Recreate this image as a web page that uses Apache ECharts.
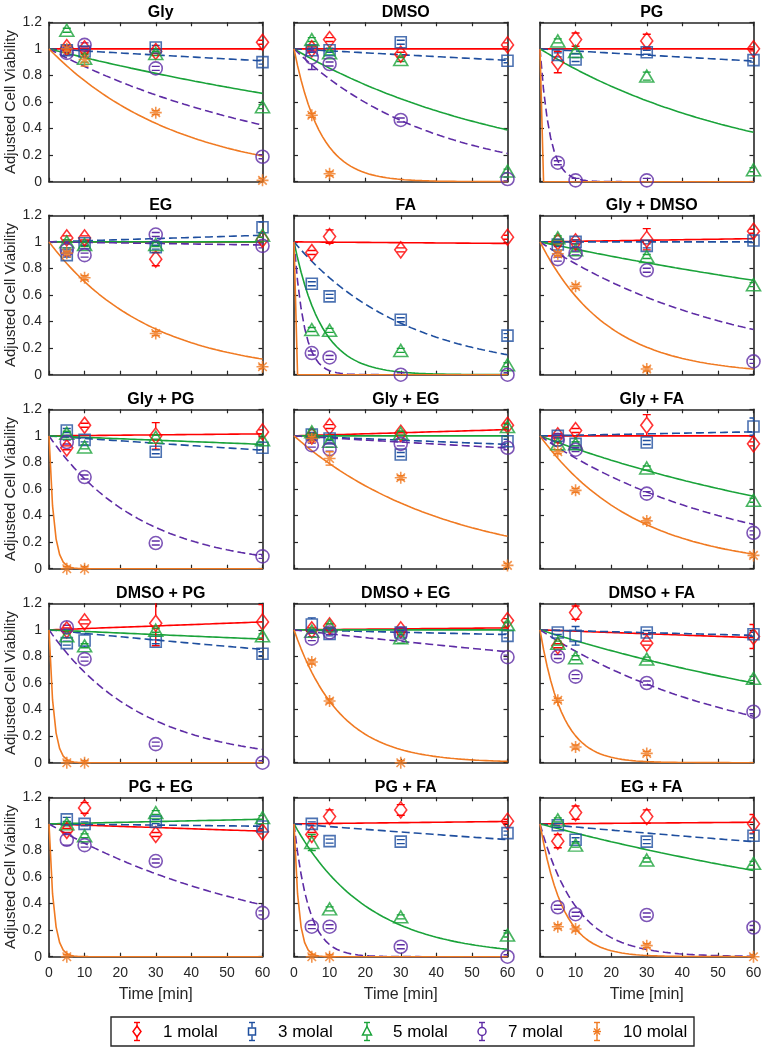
<!DOCTYPE html>
<html>
<head>
<meta charset="utf-8">
<script src="https://cdn.jsdelivr.net/npm/echarts@6/dist/echarts.min.js"></script>
<style>
  html, body { margin: 0; padding: 0; background: #fff; }
  #chart { width: 766px; height: 1050px; }
</style>
</head>
<body>
<div id="chart"></div>
<script>
// panels, left to right, top to bottom
const panelTitles = ['Gly', 'DMSO', 'PG', 'EG', 'FA', 'Gly + DMSO', 'Gly + PG', 'Gly + EG', 'Gly + FA',
  'DMSO + PG', 'DMSO + EG', 'DMSO + FA', 'PG + EG', 'PG + FA', 'EG + FA'];
const times = [5, 10, 30, 60];
const molalLabels = ['1 molal', '3 molal', '5 molal', '7 molal', '10 molal'];
const xTickStep = 10;
const yTickStep = 0.2;

// measured viability at 5, 10, 30, 60 min (null = not shown)
const viability1 = [
  [1.01, 1.0, 0.98, 1.05], [1.0, 1.07, 0.96, 1.03], [0.90, 1.07, 1.06, 1.0],
  [1.03, 1.03, 0.87, 1.02], [0.92, 1.04, 0.94, 1.035], [1.0, 1.0, 1.02, 1.08],
  [0.91, 1.08, 1.0, 1.03], [1.0, 1.07, 1.02, 1.08], [1.0, 1.04, 1.08, 0.94],
  [1.0, 1.06, 1.05, 1.06], [1.0, 1.03, 1.0, 1.07], [0.88, 1.13, 0.90, 0.95],
  [0.95, 1.12, 0.92, 0.94], [0.92, 1.055, 1.105, 1.02], [0.87, 1.085, 1.055, 1.0]
];
const viability3 = [
  [0.99, 0.98, 1.01, 0.90], [0.99, 0.99, 1.05, 0.91], [0.955, 0.92, 0.975, 0.915],
  [0.90, 0.99, 0.96, 1.11], [0.685, 0.59, 0.414, 0.294], [0.98, 1.0, 0.97, 1.01],
  [1.04, 0.97, 0.88, 0.91], [1.01, 0.98, 0.86, 0.96], [1.0, 0.94, 0.95, 1.07],
  [0.90, 0.92, 0.91, 0.82], [1.04, 0.97, 0.98, 0.955], [0.98, 0.955, 0.98, 0.967],
  [1.034, 1.0, 1.017, 0.98], [1.0, 0.87, 0.866, 0.93], [0.99, 0.88, 0.866, 0.91]
];
const viability5 = [
  [1.14, 0.93, 0.965, 0.565], [1.07, 0.97, 0.92, 0.08], [1.06, 0.98, 0.795, 0.09],
  [1.0, 0.98, 0.98, 1.05], [0.34, 0.334, 0.183, 0.075], [1.03, 0.94, 0.89, 0.678],
  [1.02, 0.917, 0.99, 0.97], [1.03, 0.96, 1.02, 1.07], [0.94, 0.94, 0.758, 0.515],
  [0.955, 0.88, 0.997, 0.955], [0.99, 1.03, 0.94, 1.04], [0.90, 0.79, 0.78, 0.635],
  [1.0, 0.91, 1.085, 1.047], [0.86, 0.36, 0.30, 0.163], [1.03, 0.84, 0.728, 0.703]
];
const viability7 = [
  [0.97, 1.03, 0.853, 0.188], [0.935, 0.886, 0.465, 0.02], [0.143, 0.01, 0.01, null],
  [0.94, 0.90, 1.055, 0.97], [0.163, 0.13, 0.0, 0.0], [0.87, 0.916, 0.786, 0.10],
  [0.954, 0.69, 0.193, 0.093], [0.93, 0.90, 0.94, 0.91], [0.97, 0.896, 0.565, 0.27],
  [1.02, 0.78, 0.14, 0.0], [0.934, 0.98, 0.97, 0.795], [0.80, 0.648, 0.60, 0.384],
  [0.88, 0.84, 0.72, 0.33], [0.226, 0.226, 0.075, 0.0], [0.372, 0.32, 0.314, 0.22]
];
const viability10 = [
  [1.0, 0.92, 0.52, 0.01], [0.50, 0.06, null, null], [null, null, null, null],
  [0.915, 0.73, 0.31, 0.06], [null, null, null, null], [0.91, 0.665, 0.043, null],
  [0.0, 0.0, null, null], [0.98, 0.83, 0.685, 0.025], [0.88, 0.59, 0.36, 0.10],
  [0.0, 0.0, null, null], [0.758, 0.464, 0.0, null], [0.47, 0.118, 0.07, null],
  [0.0, null, null, null], [0.0, 0.0, null, null], [0.226, 0.208, 0.083, 0.0]
];

// fitted decay rate (1/min) of each panel's curve
const fitRate1 = [0, 0, 0, 0, 0.0002, -0.0004, -0.00025, -0.00077, 0, -0.00097, -0.00025, 0.001, 0.00094, -0.0003, -0.0002];
const fitRate3 = [0.00157, 0.0015, 0.0016, -0.00081, 0.0316, 0, 0.0019, 0.0011, -0.0005, 0.00265, 0.0006, 0.0007, 0.0003, 0.0021, 0.0024];
const fitRate5 = [0.0068, 0.0157, 0.0165, 0, 0.13, 0.0057, 0.0011, 0, 0.0101, 0.0012, 0, 0.0085, -0.00057, 0.048, 0.0072];
const fitRate7 = [0.0142, 0.0258, 0.37, 0.0004, 0.35, 0.018, 0.039, 0.0016, 0.0183, 0.0384, 0.003, 0.0175, 0.0157, 0.24, 0.097];
const fitRate10 = [0.0274, 0.135, 8, 0.0356, 8, 0.0525, 0.75, 0.0235, 0.0368, 0.75, 0.077, 0.16, 0.75, 0.75, 0.155];

// visible error bars: [panel, series, time index, half width]; others are small
const errorBars = [
  [0, 2, 1, 0.03], [0, 4, 1, 0.05], [1, 3, 0, 0.09],
  [2, 0, 0, 0.08], [2, 0, 1, 0.05], [2, 0, 2, 0.05], [2, 2, 2, 0.03],
  [3, 0, 2, 0.05], [3, 1, 3, 0.04], [4, 0, 1, 0.05], [5, 0, 2, 0.08],
  [6, 0, 2, 0.1], [7, 4, 1, 0.05], [8, 0, 2, 0.08], [8, 1, 3, 0.065],
  [9, 0, 2, 0.17], [9, 0, 3, 0.13], [9, 1, 1, 0.05], [10, 1, 0, 0.05], [10, 2, 2, 0.04],
  [11, 0, 1, 0.05], [11, 0, 3, 0.09], [11, 1, 1, 0.07], [12, 0, 1, 0.04], [12, 3, 0, 0.04],
  [13, 0, 1, 0.05], [13, 0, 2, 0.04], [13, 2, 0, 0.06],
  [14, 0, 0, 0.05], [14, 0, 1, 0.05], [14, 0, 2, 0.05], [14, 0, 3, 0.07]
];
const smallError = 0.015;

const viability = [viability1, viability3, viability5, viability7, viability10];
const fitRates = [fitRate1, fitRate3, fitRate5, fitRate7, fitRate10];

const colors = ['#ff0000', '#1f4f9f', '#1aa33a', '#5e2ca5', '#f07a22'];
const asterisk = 'path://M5 0L5 10M0 5L10 5M1.46 1.46L8.54 8.54M1.46 8.54L8.54 1.46';
const symbols = ['diamond', 'rect', 'triangle', 'circle', asterisk];
const symbolSizes = [[12, 16], [11, 11], [14, 12], [13, 13], [12, 12]];
const markerHalf = [8, 5.5, 6, 6.5, 6];
const lineTypes = ['solid', [8, 4], 'solid', [8, 4], 'solid'];
const font = 'Liberation Sans, Arial, sans-serif';
const axisColor = '#262626';

const colLeft = [49, 294, 540];
const rowTop = [22.3, 215.3, 409.3, 603.3, 797.3];
const plotW = 213.5, plotH = 159.4;

function errorOf(p, s, k) {
  const hit = errorBars.find(e => e[0] === p && e[1] === s && e[2] === k);
  return hit ? hit[3] : smallError;
}

const fitTimes = [];
for (let t = 0; t <= 60; t++) fitTimes.push(t);

const grids = [], xAxes = [], yAxes = [], titles = [], series = [];

panelTitles.forEach(function (name, p) {
  const row = Math.floor(p / 3), col = p % 3;
  grids.push({ left: colLeft[col], top: rowTop[row], width: plotW, height: plotH, show: false });
  titles.push({
    text: name, left: colLeft[col] + plotW / 2, top: rowTop[row] - 23, textAlign: 'center',
    textStyle: { fontFamily: font, fontSize: 16, fontWeight: 'bold', color: '#000' }
  });
  const axisLine = { show: true, onZero: false, lineStyle: { color: axisColor, width: 1.6 } };
  const tick = { show: true, inside: true, length: 4, lineStyle: { color: axisColor, width: 1.2 } };
  const isBottom = row === 4, isLeft = col === 0;
  xAxes.push({
    gridIndex: p, type: 'value', min: 0, max: 60, interval: xTickStep, position: 'bottom',
    axisLine: axisLine, axisTick: tick, splitLine: { show: false },
    axisLabel: { show: isBottom, fontFamily: font, fontSize: 14, color: axisColor, margin: 9 },
    name: isBottom ? 'Time [min]' : '', nameLocation: 'middle', nameGap: 30,
    nameTextStyle: { fontFamily: font, fontSize: 16, color: axisColor }
  });
  xAxes.push({
    gridIndex: p, type: 'value', min: 0, max: 60, interval: xTickStep, position: 'top',
    axisLine: axisLine, axisTick: tick, splitLine: { show: false }, axisLabel: { show: false }
  });
  yAxes.push({
    gridIndex: p, type: 'value', min: 0, max: 1.2, interval: yTickStep, position: 'left',
    axisLine: axisLine, axisTick: tick, splitLine: { show: false },
    axisLabel: { show: isLeft, fontFamily: font, fontSize: 14, color: axisColor, margin: 7 },
    name: isLeft ? 'Adjusted Cell Viability' : '', nameLocation: 'middle', nameGap: 31,
    nameTextStyle: { fontFamily: font, fontSize: 15, color: axisColor }
  });
  yAxes.push({
    gridIndex: p, type: 'value', min: 0, max: 1.2, interval: yTickStep, position: 'right',
    axisLine: axisLine, axisTick: tick, splitLine: { show: false }, axisLabel: { show: false }
  });

  for (let s = 0; s < 5; s++) {
    const color = colors[s];
    const k = fitRates[s][p];
    series.push({
      type: 'line', xAxisIndex: 2 * p, yAxisIndex: 2 * p, silent: true, z: 2,
      showSymbol: false, symbol: 'none',
      lineStyle: { color: color, width: 1.6, type: lineTypes[s] },
      data: fitTimes.map(t => [t, Math.exp(-k * t)])
    });
    const pts = [];
    viability[s][p].forEach(function (v, i) {
      if (v !== null) pts.push([times[i], v, errorOf(p, s, i)]);
    });
    series.push({
      type: 'custom', xAxisIndex: 2 * p, yAxisIndex: 2 * p, silent: true, z: 3, clip: true,
      encode: { x: 0, y: 1 },
      renderItem: function (params, api) {
        const t = api.value(0), v = api.value(1), e = api.value(2);
        const top = api.coord([t, v + e]), bot = api.coord([t, v - e]), mid = api.coord([t, v]);
        const half = markerHalf[s], cap = 4;
        const style = { stroke: color, lineWidth: 1.4, fill: null };
        const kids = [
          { type: 'line', shape: { x1: top[0] - cap, y1: top[1], x2: top[0] + cap, y2: top[1] }, style: style },
          { type: 'line', shape: { x1: bot[0] - cap, y1: bot[1], x2: bot[0] + cap, y2: bot[1] }, style: style }
        ];
        if (mid[1] - top[1] > half) {
          kids.push({ type: 'line', shape: { x1: mid[0], y1: top[1], x2: mid[0], y2: mid[1] - half }, style: style });
        }
        if (bot[1] - mid[1] > half) {
          kids.push({ type: 'line', shape: { x1: mid[0], y1: mid[1] + half, x2: mid[0], y2: bot[1] }, style: style });
        }
        return { type: 'group', children: kids };
      },
      data: pts
    });
    series.push({
      type: 'scatter', name: molalLabels[s], xAxisIndex: 2 * p, yAxisIndex: 2 * p,
      silent: true, z: 4, clip: false,
      symbol: symbols[s], symbolSize: symbolSizes[s],
      itemStyle: { color: 'rgba(0,0,0,0)', borderColor: color, borderWidth: 1.6 },
      data: pts.map(d => [d[0], d[1]])
    });
  }
});

// legend box drawn as flat graphic elements: marker + error bar + label per item
const legendTop = 1017, legendH = 29, legendMid = legendTop + legendH / 2;
const graphics = [{
  type: 'rect', z: 100, shape: { x: 111, y: legendTop, width: 583, height: legendH },
  style: { fill: '#fff', stroke: axisColor, lineWidth: 1.4 }
}];
function addLine(x1, y1, x2, y2, color) {
  graphics.push({ type: 'line', z: 101, shape: { x1: x1, y1: y1, x2: x2, y2: y2 }, style: { stroke: color, lineWidth: 1.4 } });
}
molalLabels.forEach(function (label, s) {
  const cx = 137 + 115 * s, cy = legendMid, c = colors[s];
  addLine(cx, cy - 9, cx, cy - 4, c);
  addLine(cx, cy + 4, cx, cy + 9, c);
  addLine(cx - 3, cy - 9, cx + 3, cy - 9, c);
  addLine(cx - 3, cy + 9, cx + 3, cy + 9, c);
  const st = { fill: 'rgba(0,0,0,0)', stroke: c, lineWidth: 1.5 };
  if (s === 0) graphics.push({ type: 'polygon', z: 102, shape: { points: [[cx, cy - 5.5], [cx + 4, cy], [cx, cy + 5.5], [cx - 4, cy]] }, style: st });
  if (s === 1) graphics.push({ type: 'rect', z: 102, shape: { x: cx - 3.5, y: cy - 3.5, width: 7, height: 7 }, style: st });
  if (s === 2) graphics.push({ type: 'polygon', z: 102, shape: { points: [[cx, cy - 5], [cx + 4.5, cy + 3.5], [cx - 4.5, cy + 3.5]] }, style: st });
  if (s === 3) graphics.push({ type: 'circle', z: 102, shape: { cx: cx, cy: cy, r: 4 }, style: st });
  if (s === 4) {
    addLine(cx, cy - 4.5, cx, cy + 4.5, c);
    addLine(cx - 4, cy, cx + 4, cy, c);
    addLine(cx - 3, cy - 3, cx + 3, cy + 3, c);
    addLine(cx - 3, cy + 3, cx + 3, cy - 3, c);
  }
  graphics.push({
    type: 'text', z: 102, x: cx + 26, y: cy + 1,
    style: { text: label, fontFamily: font, fontSize: 17, fill: '#000', verticalAlign: 'middle', align: 'left' }
  });
});

const chart = echarts.init(document.getElementById('chart'), null, { renderer: 'canvas' });
chart.setOption({
  backgroundColor: '#fff',
  animation: false,
  title: titles,
  grid: grids,
  xAxis: xAxes,
  yAxis: yAxes,
  series: series,
  graphic: { elements: graphics }
});
</script>
</body>
</html>
